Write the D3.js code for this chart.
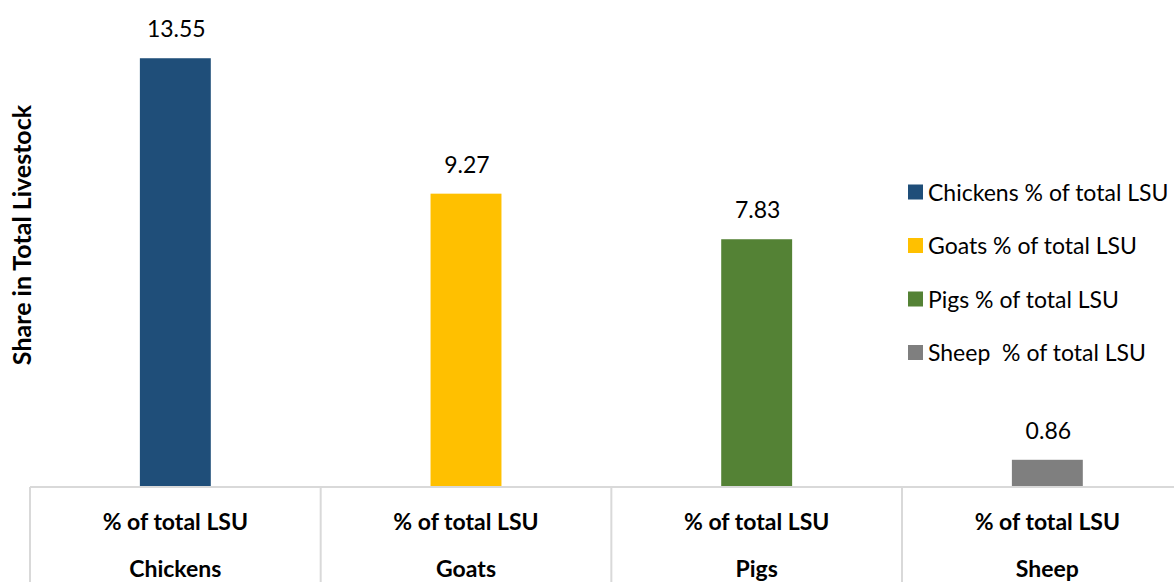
<!DOCTYPE html>
<html>
<head>
<meta charset="utf-8">
<script src="https://cdn.jsdelivr.net/npm/d3@7"></script>
<style>
  html, body { margin: 0; padding: 0; background: #fff; }
  svg { display: block; font-family: Lato, "Open Sans", sans-serif; }
</style>
</head>
<body>
<svg id="chart" width="1174" height="582"></svg>
<script>
// Livestock share data
const categories = ["Chickens", "Goats", "Pigs", "Sheep"];
const measureLabel = "% of total LSU";
const values = [13.55, 9.27, 7.83, 0.86];
const colors = ["#1F4E79", "#FFC000", "#548235", "#7F7F7F"];
const legendLabels = ["Chickens % of total LSU", "Goats % of total LSU", "Pigs % of total LSU", "Sheep  % of total LSU"];
const yTitle = "Share in Total Livestock";

const svg = d3.select("#chart");
const W = 1174, H = 582;

const plotLeft = 30, bandW = 290.67;
const baseY = 487;

const x = d3.scaleBand()
  .domain(categories)
  .range([plotLeft, plotLeft + bandW * categories.length])
  .padding(0);

const y = d3.scaleLinear().domain([0, 14]).range([baseY, 44]);

const barW = x.bandwidth() * 0.244;

// Bars
svg.append("g").selectAll("rect")
  .data(categories)
  .join("rect")
  .attr("x", (d) => x(d) + x.bandwidth() / 2 - barW / 2)
  .attr("y", (d, i) => y(values[i]))
  .attr("width", barW)
  .attr("height", (d, i) => y(0) - y(values[i]))
  .attr("fill", (d, i) => colors[i]);

// Value labels
svg.append("g").selectAll("text")
  .data(categories)
  .join("text")
  .attr("x", (d) => x(d) + x.bandwidth() / 2 + 1)
  .attr("y", (d, i) => y(values[i]) - 21)
  .attr("text-anchor", "middle")
  .attr("font-size", 23)
  .attr("fill", "#000")
  .text((d, i) => values[i].toFixed(2));

// Category axis: baseline and band dividers
const axisG = svg.append("g");
axisG.append("line")
  .attr("x1", plotLeft).attr("x2", W + 20)
  .attr("y1", baseY).attr("y2", baseY)
  .attr("stroke", "#d9d9d9").attr("stroke-width", 2);

axisG.selectAll("line.div")
  .data(categories)
  .join("line")
  .attr("class", "div")
  .attr("x1", (d) => x(d)).attr("x2", (d) => x(d))
  .attr("y1", baseY).attr("y2", H + 5)
  .attr("stroke", "#d9d9d9").attr("stroke-width", 2);

// Two-level category labels
const lab = axisG.selectAll("g.lab")
  .data(categories)
  .join("g")
  .attr("class", "lab")
  .attr("transform", (d) => `translate(${x(d) + x.bandwidth() / 2},0)`);

lab.append("text")
  .attr("y", 530)
  .attr("text-anchor", "middle")
  .attr("font-size", 23)
  .attr("font-weight", "bold")
  .text(measureLabel);

lab.append("text")
  .attr("y", 577)
  .attr("text-anchor", "middle")
  .attr("font-size", 23)
  .attr("font-weight", "bold")
  .text((d) => d);

// Y axis title
svg.append("text")
  .attr("transform", "translate(31,235) rotate(-90)")
  .attr("text-anchor", "middle")
  .attr("font-size", 25)
  .attr("font-weight", "bold")
  .text(yTitle);

// Legend
const legend = svg.append("g").attr("transform", "translate(908,0)");
const rows = legend.selectAll("g")
  .data(legendLabels)
  .join("g")
  .attr("transform", (d, i) => `translate(0,${192 + i * 53.5})`);

rows.append("rect")
  .attr("x", 0).attr("y", -7.5)
  .attr("width", 15).attr("height", 15)
  .attr("fill", (d, i) => colors[i]);

rows.append("text")
  .attr("x", 20)
  .attr("y", 8.5)
  .attr("font-size", 23)
  .attr("fill", "#000")
  .style("white-space", "pre")
  .text((d) => d);
</script>
</body>
</html>
